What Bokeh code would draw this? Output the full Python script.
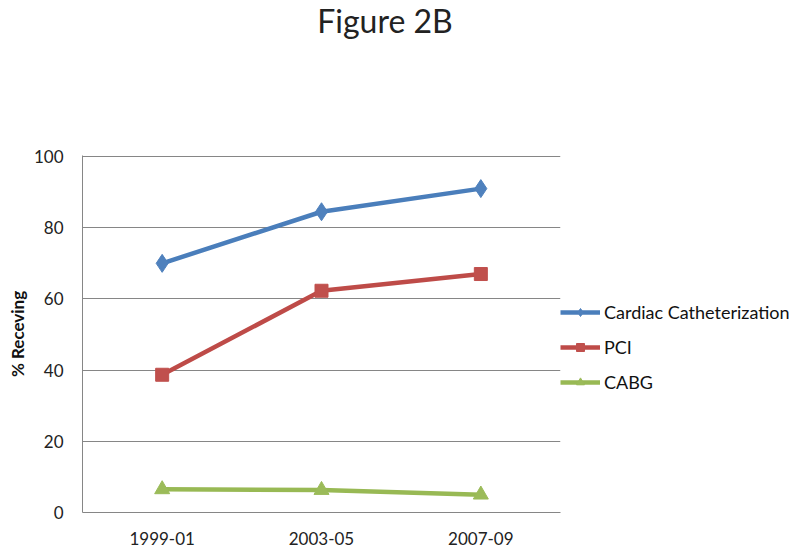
from bokeh.plotting import figure
from bokeh.layouts import column
from bokeh.models import FactorRange, Range1d, Legend, LegendItem, Div
from bokeh.embed import file_html
from bokeh.resources import INLINE

periods = ["1999-01", "2003-05", "2007-09"]
cardiac_cath = [70.0, 84.5, 91.0]
pci = [38.7, 62.3, 67.0]
cabg = [6.5, 6.3, 5.0]
y_ticks = [0, 20, 40, 60, 80, 100]
title_text = "Figure 2B"

FONT = "Lato"
TITLE_H = 44

title_div = Div(text=title_text, width=770, height=TITLE_H,
                styles={"font-family": FONT, "font-size": "32px", "color": "#222222",
                        "text-align": "center", "line-height": "42px", "margin": "0"})

p = figure(frame_width=478, frame_height=357, output_backend="svg", toolbar_location=None,
           x_range=FactorRange(*periods), y_range=Range1d(0, 100.3),
           min_border_left=82, min_border_right=10, min_border_top=155 - TITLE_H,
           min_border_bottom=41)
p.outline_line_color = None
p.background_fill_color = "white"
p.border_fill_color = "white"

p.xgrid.grid_line_color = None
p.ygrid.grid_line_color = "#868686"
p.ygrid.grid_line_width = 1
p.yaxis.ticker = y_ticks

for ax in (p.xaxis, p.yaxis):
    ax.axis_line_color = "#868686"
    ax.major_tick_line_color = None
    ax.minor_tick_line_color = None
    ax.major_tick_out = 0
    ax.major_label_text_font = FONT
    ax.major_label_text_font_size = "17px"
    ax.major_label_text_color = "#222222"

p.xaxis.major_label_standoff = 19
p.yaxis.major_label_standoff = 19
p.yaxis.axis_label = "% Receving"
p.yaxis.axis_label_text_font = FONT
p.yaxis.axis_label_text_font_style = "bold"
p.yaxis.axis_label_text_font_size = "17px"
p.yaxis.axis_label_text_color = "#111111"
p.yaxis.axis_label_standoff = 3

series = [
    ("Cardiac Catheterization", cardiac_cath, "#4A7EBB", "#4F81BD", "diamond", 18),
    ("PCI", pci, "#BE4B48", "#C0504D", "square", 13),
    ("CABG", cabg, "#98B954", "#9BBB59", "triangle", 15),
]

items = []
for name, vals, lc, mc, marker, size in series:
    r1 = p.line(periods, vals, line_color=lc, line_width=4.5)
    r2 = p.scatter(periods, vals, marker=marker, size=size, fill_color=mc, line_color=mc)
    items.append(LegendItem(label=name, renderers=[r1, r2]))

legend = Legend(items=items, location=(0, 119), orientation="vertical",
                label_text_font=FONT, label_text_font_size="18px", label_text_color="#111111",
                glyph_width=40, glyph_height=20, label_height=20, spacing=13,
                label_standoff=4, padding=0, margin=0,
                border_line_color=None, background_fill_alpha=0)
p.add_layout(legend, "right")

layout = column(title_div, p, spacing=0)
open("out.html", "w").write(file_html(layout, INLINE))
